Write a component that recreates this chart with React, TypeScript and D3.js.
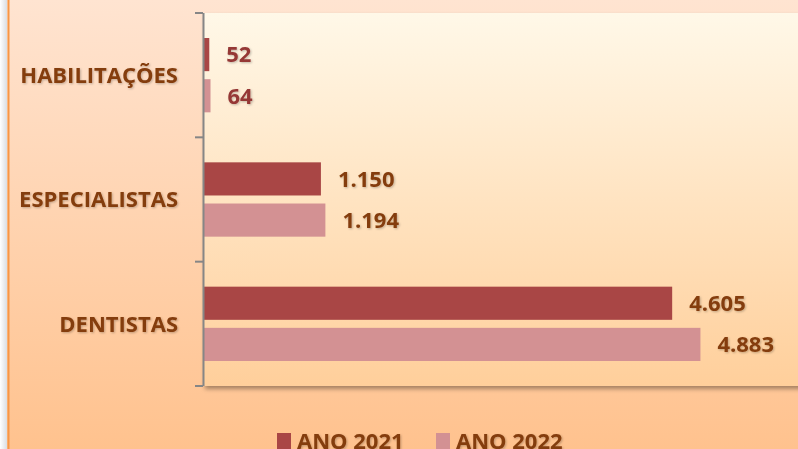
import React from "react";
import * as d3 from "d3";

const categories = ["HABILITAÇÕES", "ESPECIALISTAS", "DENTISTAS"];
const seriesNames = ["ANO 2021", "ANO 2022"];
const ano2021 = [52, 1150, 4605];
const ano2022 = [64, 1194, 4883];

const W = 798;
const H = 449;
const plot = { left: 204, top: 13, bottom: 386 };

const barColors = ["#A94645", "#D39193"];
const textBrown = "#843C0C";
const labelColors = ["#953735", textBrown, textBrown];

const fmt = (v: number) => d3.format(",")(v).replace(/,/g, ".");

const App = () => {
  const y = d3
    .scaleBand<string>()
    .domain(categories)
    .range([plot.top, plot.bottom])
    .padding(0);

  const inner = d3
    .scaleBand<string>()
    .domain(seriesNames)
    .range([25, y.bandwidth() - 25])
    .paddingInner(0.195)
    .paddingOuter(0);

  // 1 unit ~ 0.1017 px, the axis runs past the right edge
  const x = d3.scaleLinear().domain([0, 6000]).range([plot.left, plot.left + 610]);

  const series = [ano2021, ano2022];
  const font = "'Open Sans', 'Noto Sans', sans-serif";

  return (
    <div style={{ position: "absolute", left: 0, top: 0 }}>
      <svg width={W} height={H} style={{ display: "block" }}>
        <defs>
          <linearGradient id="outerBg" x1="0" y1="0" x2="0" y2="1">
            <stop offset="0%" stopColor="#FFE4D1" />
            <stop offset="100%" stopColor="#FFC28E" />
          </linearGradient>
          <linearGradient id="plotBg" x1="0" y1="0" x2="0" y2="1">
            <stop offset="0%" stopColor="#FFF8E8" />
            <stop offset="100%" stopColor="#FFCF9B" />
          </linearGradient>
          <linearGradient id="edge" x1="0" y1="0" x2="1" y2="0">
            <stop offset="0%" stopColor="#FFFFFF" />
            <stop offset="100%" stopColor="#DADDE2" />
          </linearGradient>
          <filter id="plotShadow" x="-5%" y="-5%" width="110%" height="115%">
            <feDropShadow dx="1" dy="3" stdDeviation="2" floodColor="#000" floodOpacity="0.35" />
          </filter>
          <filter id="txtShadow" x="-10%" y="-20%" width="120%" height="150%">
            <feDropShadow dx="1" dy="1" stdDeviation="0.8" floodColor="#000" floodOpacity="0.25" />
          </filter>
        </defs>

        <rect x={0} y={0} width={W} height={H} fill="url(#outerBg)" />
        <rect x={0} y={0} width={7} height={H} fill="url(#edge)" />
        <line x1={8.5} x2={8.5} y1={0} y2={H} stroke="#F79646" strokeWidth={2} />

        <rect
          x={plot.left}
          y={plot.top}
          width={W - plot.left + 10}
          height={plot.bottom - plot.top}
          fill="url(#plotBg)"
          filter="url(#plotShadow)"
        />

        {/* bars */}
        {categories.map((c, i) =>
          series.map((s, j) => (
            <rect
              key={c + j}
              x={x(0)}
              y={(y(c) as number) + (inner(seriesNames[j]) as number)}
              width={x(s[i]) - x(0)}
              height={inner.bandwidth()}
              fill={barColors[j]}
            />
          ))
        )}

        {/* value labels */}
        {categories.map((c, i) =>
          series.map((s, j) => (
            <text
              key={"v" + c + j}
              x={x(s[i]) + 17}
              y={(y(c) as number) + (inner(seriesNames[j]) as number) + inner.bandwidth() / 2}
              dy="0.36em"
              fontFamily={font}
              fontWeight={700}
              fontSize={22}
              fill={labelColors[i]}
              filter="url(#txtShadow)"
            >
              {fmt(s[i])}
            </text>
          ))
        )}

        {/* category axis */}
        <line x1={plot.left - 0.5} x2={plot.left - 0.5} y1={plot.top} y2={plot.bottom} stroke="#868686" strokeWidth={2} />
        {[...categories.map((c) => y(c) as number), plot.bottom].map((t, i) => (
          <line key={"t" + i} x1={195} x2={plot.left - 1} y1={t} y2={t} stroke="#868686" strokeWidth={2} />
        ))}
        {categories.map((c) => (
          <text
            key={"c" + c}
            x={178}
            y={(y(c) as number) + y.bandwidth() / 2}
            dy="0.36em"
            textAnchor="end"
            fontFamily={font}
            fontWeight={700}
            fontSize={22}
            fill={textBrown}
            filter="url(#txtShadow)"
          >
            {c}
          </text>
        ))}

        {/* legend */}
        {seriesNames.map((n, j) => {
          const lx = [277, 436][j];
          return (
            <g key={"l" + n}>
              <rect x={lx} y={433} width={14} height={16} fill={barColors[j]} />
              <text
                x={lx + 20}
                y={449}
                fontFamily={font}
                fontWeight={700}
                fontSize={22}
                fill={textBrown}
                filter="url(#txtShadow)"
              >
                {n}
              </text>
            </g>
          );
        })}
      </svg>
    </div>
  );
};

export default App;
